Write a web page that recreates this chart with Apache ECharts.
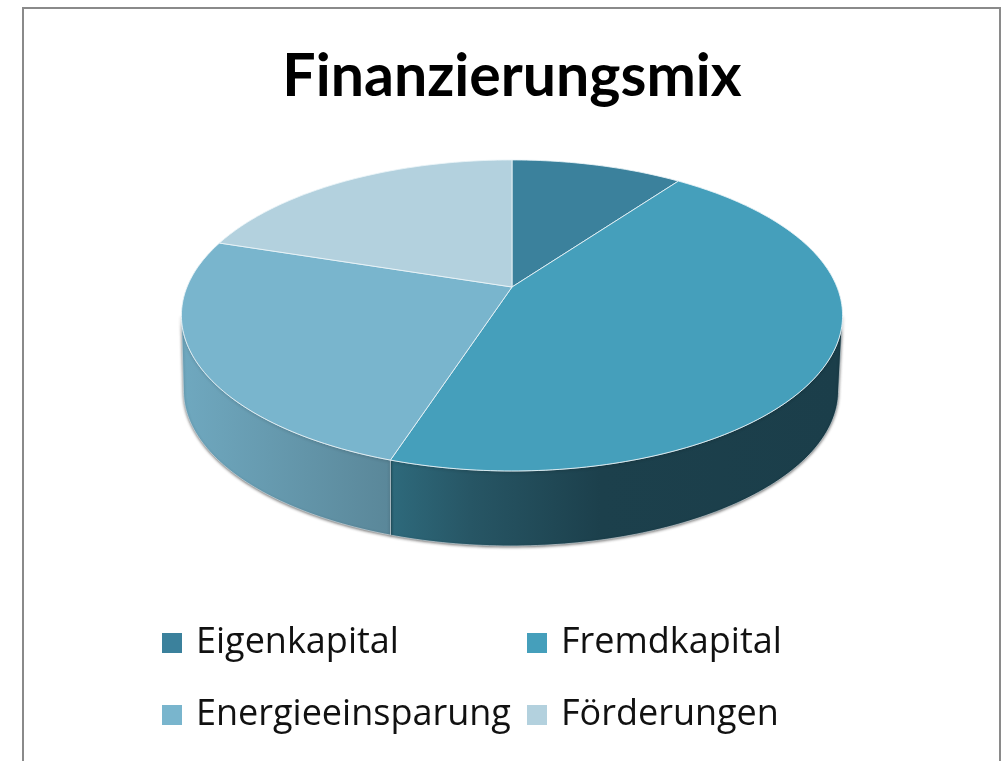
<!DOCTYPE html>
<html><head><meta charset="utf-8">
<style>html,body{margin:0;padding:0;background:#fff}#c{width:1002px;height:761px}</style>
<script src="https://cdn.jsdelivr.net/npm/echarts@6/dist/echarts.min.js"></script>
</head><body><div id="c"></div>
<script>
const titleText = 'Finanzierungsmix';
const categories = ['Eigenkapital', 'Fremdkapital', 'Energieeinsparung', 'Förderungen'];
const values = [10, 45, 25, 20];
const topColors = ['#3b819c', '#459fbb', '#79b5cd', '#b3d1de'];
const legendLeft = ['Eigenkapital', 'Energieeinsparung'];
const legendRight = ['Fremdkapital', 'Förderungen'];

const TOP = {cx: 512, y0: 287, A: 325, B: 150.3, k: 0.183};
const BOTTOM = {cx: 511, y0: 362, A: 322, B: 150.3, k: 0.183};
const VIS_FROM = 100.7, VIS_TO = 259.3;
const wallGradients = {
  1: [[390, '#2e6a7c'], [470, '#275665'], [600, '#1c404c'], [840, '#1b3e4a']],
  2: [[183, '#6fa8bf'], [390, '#5a8799']]
};
const total = values.reduce((a, b) => a + b, 0);

function proj(deg, P) {
  const t = deg * Math.PI / 180, u = Math.sin(t), v = Math.cos(t), w = 1 + P.k * v;
  return [P.cx + P.A * u / w, P.y0 - P.B * v / w];
}
function arc(a, b, P) {
  const pts = [], n = Math.max(2, Math.ceil(Math.abs(b - a)));
  for (let i = 0; i <= n; i++) pts.push(proj(a + (b - a) * i / n, P));
  return pts;
}
function makeRender(index) {
  return function (params, api) {
    const value = api.value(0);
    let before = 0;
    for (let i = 0; i < index; i++) before += values[i];
    const a0 = before / total * 360, a1 = (before + value) / total * 360;
    const children = [];
    const s = Math.max(a0, VIS_FROM), e = Math.min(a1, VIS_TO);
    if (s < e) {
      const g = wallGradients[index], x0 = g[0][0], x1 = g[g.length - 1][0];
      const stops = g.map(d => ({offset: (d[0] - x0) / (x1 - x0), color: d[1]}));
      children.push({
        type: 'polygon', z2: 1,
        shape: {points: arc(s, e, TOP).concat(arc(e, s, BOTTOM))},
        style: {
          fill: new echarts.graphic.LinearGradient(x0, 0, x1, 0, stops, true),
          stroke: 'rgba(225,235,240,0.55)', lineWidth: 1,
          shadowBlur: 3, shadowColor: 'rgba(0,0,0,0.55)', shadowOffsetX: 0, shadowOffsetY: 1
        }
      });
    }
    children.push({
      type: 'polygon', z2: 5,
      shape: {points: [[TOP.cx, TOP.y0]].concat(arc(a0, a1, TOP))},
      style: {fill: topColors[index], stroke: 'rgba(235,245,248,0.85)', lineWidth: 1}
    });
    return {type: 'group', children: children};
  };
}
const legendBase = {
  orient: 'vertical', icon: 'rect', itemWidth: 20, itemHeight: 20, itemGap: 36,
  selectedMode: false,
  textStyle: {fontFamily: 'Open Sans', fontSize: 36, color: '#111', padding: [0, 0, 0, 9]}
};
const chart = echarts.init(document.getElementById('c'), null, {renderer: 'canvas'});
chart.setOption({
  animation: false,
  backgroundColor: '#fff',
  title: {
    text: titleText, left: 507, top: 42, textAlign: 'center',
    textStyle: {fontFamily: 'Lato', fontWeight: 'bold', fontSize: 59, color: '#000'}
  },
  legend: [
    Object.assign({}, legendBase, {data: legendLeft, left: 157, top: 620}),
    Object.assign({}, legendBase, {data: legendRight, left: 522, top: 620})
  ],
  graphic: [{
    type: 'rect', z: -1, silent: true,
    shape: {x: 23, y: 8, width: 977, height: 790},
    style: {fill: '#fff', stroke: '#8a8a8a', lineWidth: 2}
  }],
  series: categories.map((name, i) => ({
    type: 'custom', name: name, coordinateSystem: 'none',
    itemStyle: {color: topColors[i]},
    renderItem: makeRender(i),
    data: [[values[i]]]
  }))
});
</script></body></html>
